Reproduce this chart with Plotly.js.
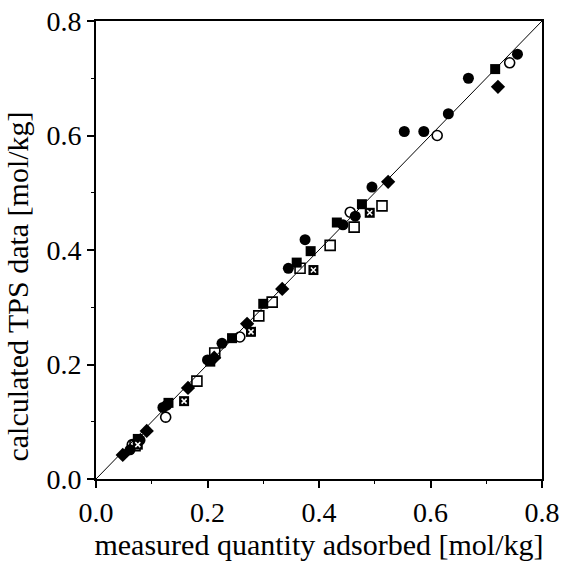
<!DOCTYPE html>
<html>
<head>
<meta charset="utf-8">
<script src="https://cdn.plot.ly/plotly-3.0.1.min.js"></script>
<style>html,body{margin:0;padding:0;background:#fff;}</style>
</head>
<body>
<div id="chart" style="width:567px;height:566px;"></div>
<script>
// Parity line
const diagX = [0, 0.8];
const diagY = [0, 0.8];

// Filled circles
const fcX = [0.061, 0.079, 0.120, 0.127, 0.200, 0.226, 0.345, 0.375, 0.443, 0.465, 0.495, 0.553, 0.588, 0.632, 0.668, 0.756];
const fcY = [0.051, 0.068, 0.125, 0.129, 0.208, 0.237, 0.368, 0.418, 0.444, 0.459, 0.510, 0.607, 0.607, 0.638, 0.700, 0.742];

// Open circles
const ocX = [0.065, 0.125, 0.258, 0.456, 0.612, 0.742];
const ocY = [0.060, 0.108, 0.248, 0.466, 0.600, 0.727];

// Filled squares
const fsX = [0.075, 0.130, 0.205, 0.244, 0.300, 0.360, 0.385, 0.432, 0.477, 0.716];
const fsY = [0.070, 0.133, 0.205, 0.246, 0.306, 0.378, 0.398, 0.448, 0.480, 0.716];

// Open squares
const osX = [0.070, 0.181, 0.213, 0.292, 0.316, 0.366, 0.420, 0.463, 0.513];
const osY = [0.058, 0.171, 0.220, 0.285, 0.309, 0.368, 0.408, 0.440, 0.477];

// Filled diamonds
const fdX = [0.048, 0.091, 0.165, 0.212, 0.271, 0.334, 0.524, 0.721];
const fdY = [0.042, 0.084, 0.159, 0.212, 0.271, 0.332, 0.519, 0.685];

// Crossed squares
const xsX = [0.075, 0.158, 0.278, 0.390, 0.491];
const xsY = [0.060, 0.136, 0.257, 0.365, 0.465];

const xTickVals = [0, 0.2, 0.4, 0.6, 0.8];
const xTickText = ['0.0', '0.2', '0.4', '0.6', '0.8'];
const yTickVals = [0, 0.2, 0.4, 0.6, 0.8];
const yTickText = ['0.0', '0.2', '0.4', '0.6', '0.8'];

const xTitle = 'measured quantity adsorbed [mol/kg]';
const yTitle = 'calculated TPS data [mol/kg]';

const traces = [
  {x: diagX, y: diagY, mode: 'lines', line: {color: '#000', width: 1}, hoverinfo: 'skip'},
  {x: fcX, y: fcY, mode: 'markers', marker: {symbol: 'circle', size: 11, color: '#000'}},
  {x: ocX, y: ocY, mode: 'markers', marker: {symbol: 'circle-open', size: 10, color: '#000', line: {width: 1.6, color: '#000'}}},
  {x: fsX, y: fsY, mode: 'markers', marker: {symbol: 'square', size: 10, color: '#000'}},
  {x: osX, y: osY, mode: 'markers', marker: {symbol: 'square-open', size: 10, color: '#000', line: {width: 1.6, color: '#000'}}},
  {x: fdX, y: fdY, mode: 'markers', marker: {symbol: 'diamond', size: 11, color: '#000'}},
  {x: xsX, y: xsY, mode: 'markers', marker: {symbol: 'square', size: 10, color: '#000'}},
  {x: xsX, y: xsY, mode: 'markers', marker: {symbol: 'x-thin-open', size: 5, color: '#fff', line: {width: 1.5, color: '#fff'}}}
];

const serif = 'Liberation Serif, Times New Roman, serif';

const axisCommon = {
  range: [0, 0.8],
  showgrid: false,
  zeroline: false,
  showline: true,
  linecolor: '#000',
  linewidth: 2,
  mirror: true,
  ticks: 'outside',
  ticklen: 7,
  tickwidth: 2,
  tickcolor: '#000',
  minor: {dtick: 0.1, ticks: 'outside', ticklen: 3, tickwidth: 1, tickcolor: '#000'},
  tickfont: {family: serif, size: 28, color: '#000'},
  fixedrange: true
};

const layout = {
  width: 567,
  height: 566,
  margin: {l: 96, r: 25, t: 21, b: 87},
  paper_bgcolor: '#fff',
  plot_bgcolor: '#fff',
  showlegend: false,
  xaxis: Object.assign({}, axisCommon, {
    tickvals: xTickVals, ticktext: xTickText,
    title: {text: xTitle, standoff: 6,
            font: {family: serif, size: 30, color: '#000'}}
  }),
  yaxis: Object.assign({}, axisCommon, {
    tickvals: yTickVals, ticktext: yTickText
  }),
  annotations: [{
    text: yTitle, xref: 'paper', yref: 'paper', x: -0.175, y: 0.42,
    xanchor: 'center', yanchor: 'middle', textangle: -90, showarrow: false,
    font: {family: serif, size: 30, color: '#000'}
  }]
};

Plotly.newPlot('chart', traces, layout, {displayModeBar: false, staticPlot: true});
</script>
</body>
</html>
